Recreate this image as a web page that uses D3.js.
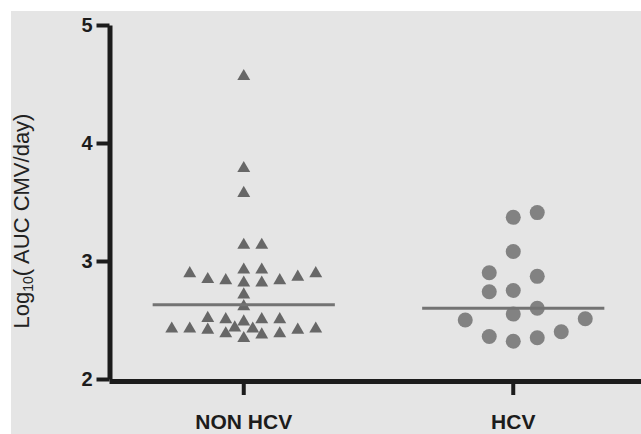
<!DOCTYPE html>
<meta charset="utf-8">
<html>
  <head>
    <title>Log10 AUC CMV/day by group</title>
    <style>
      body { margin: 0; background: #fff; }
      svg { display: block; }
      text { font-family: "Liberation Sans", Arial, sans-serif; }
      .axis path, .axis line { stroke: #1c1c1c; }
      .axis text { fill: #1c1c1c; font-weight: bold; }
    </style>
    <script src="https://cdn.jsdelivr.net/npm/d3@7"></script>
  </head>
  <body>
    <div id="chart"></div>
    <script type="text/javascript">
    // data (log10 values)
    var groups = ["NON HCV", "HCV"];
    var nonHcv = [2.36, 2.39, 2.40, 2.40, 2.43, 2.43, 2.44, 2.44, 2.44, 2.44, 2.45,
                  2.50, 2.52, 2.52, 2.52, 2.53, 2.63, 2.73,
                  2.83, 2.83, 2.85, 2.85, 2.86, 2.88, 2.91, 2.91, 2.94, 2.94,
                  3.15, 3.15, 3.59, 3.80, 4.58];
    var hcv = [2.32, 2.35, 2.36, 2.40, 2.50, 2.51, 2.55, 2.60, 2.74, 2.75,
               2.87, 2.90, 3.08, 3.37, 3.41];
    var yTicks = [2, 3, 4, 5];
    var yTitle = ["Log", "10", "( AUC CMV/day)"];

    var width = 641, height = 434;

    var svg = d3.select("#chart").append("svg")
      .attr("width", width)
      .attr("height", height);

    // grey plot background
    svg.append("rect")
      .attr("x", 11).attr("y", 11)
      .attr("width", width - 11).attr("height", height - 11)
      .style("fill", "#e5e5e5");

    var x = d3.scaleBand()
      .domain(groups)
      .range([109, 648]);

    var y = d3.scaleLinear()
      .domain([2, 5])
      .range([379, 25]);

    // marker settings per group
    var series = [
      { name: groups[0], values: nonHcv, shape: "triangle", color: "#676767", step: 18, rowPx: 11, cap: 9 },
      { name: groups[1], values: hcv, shape: "circle", color: "#828282", step: 24, rowPx: 23, cap: 7 }
    ];

    // prism-like column scatter: points close in value share a row and get spread out
    function swarm(values, rowPx, cap) {
      var sorted = values.slice().sort(d3.ascending);
      var out = [], rowStart = null, n = 0;
      sorted.forEach(function (v) {
        if (rowStart === null || y(rowStart) - y(v) >= rowPx) { rowStart = v; n = 0; }
        var sub = Math.floor(n / cap), m = n % cap, k;
        if (sub % 2 === 1) {
          k = (m % 2 === 0 ? 1 : -1) * (Math.floor(m / 2) + 0.5);
        } else {
          k = m % 2 ? (m + 1) / 2 : -m / 2;
        }
        out.push({ v: v, k: k });
        n++;
      });
      return out;
    }

    var tri = d3.symbol().type(d3.symbolTriangle).size(72)();

    series.forEach(function (s) {
      var cx = x(s.name) + x.bandwidth() / 2;
      var pts = swarm(s.values, s.rowPx, s.cap);
      var g = svg.append("g").attr("class", "points");

      if (s.shape === "triangle") {
        g.selectAll("path")
          .data(pts)
          .enter()
          .append("path")
          .attr("d", tri)
          .attr("transform", function (d) {
            return "translate(" + (cx + d.k * s.step) + "," + (y(d.v) + 1.8) + ")";
          })
          .style("fill", s.color);
      } else {
        g.selectAll("circle")
          .data(pts)
          .enter()
          .append("circle")
          .attr("cx", function (d) { return cx + d.k * s.step; })
          .attr("cy", function (d) { return y(d.v); })
          .attr("r", 7.5)
          .style("fill", s.color);
      }

      // median line
      var half = x.bandwidth() * 0.338;
      svg.append("line")
        .attr("x1", cx - half).attr("x2", cx + half)
        .attr("y1", y(d3.median(s.values))).attr("y2", y(d3.median(s.values)))
        .style("stroke", "#737373")
        .style("stroke-width", 3);
    });

    // axes
    var yAxis = svg.append("g")
      .attr("class", "axis")
      .attr("transform", "translate(109.5,0)")
      .call(d3.axisLeft(y).tickValues(yTicks).tickFormat(d3.format("d"))
        .tickSize(13).tickSizeOuter(0).tickPadding(4));
    yAxis.select(".domain").style("stroke-width", 5);
    yAxis.selectAll(".tick line").style("stroke-width", 4);
    yAxis.selectAll(".tick text").style("font-size", "20px");

    var xAxis = svg.append("g")
      .attr("class", "axis")
      .attr("transform", "translate(0,381)")
      .call(d3.axisBottom(x).tickSize(14).tickSizeOuter(0).tickPadding(19));
    xAxis.select(".domain").style("stroke-width", 5);
    xAxis.selectAll(".tick line").style("stroke-width", 4);
    xAxis.selectAll(".tick text").style("font-size", "21px");

    // y title with subscript
    var title = svg.append("text")
      .attr("transform", "translate(28.5,221) rotate(-90)")
      .attr("text-anchor", "middle")
      .style("font-size", "22px")
      .style("fill", "#222");
    title.append("tspan").text(yTitle[0]);
    title.append("tspan").attr("dy", 4).style("font-size", "14px").text(yTitle[1]);
    title.append("tspan").attr("dy", -4).text(yTitle[2]);
    </script>
  </body>
</html>
